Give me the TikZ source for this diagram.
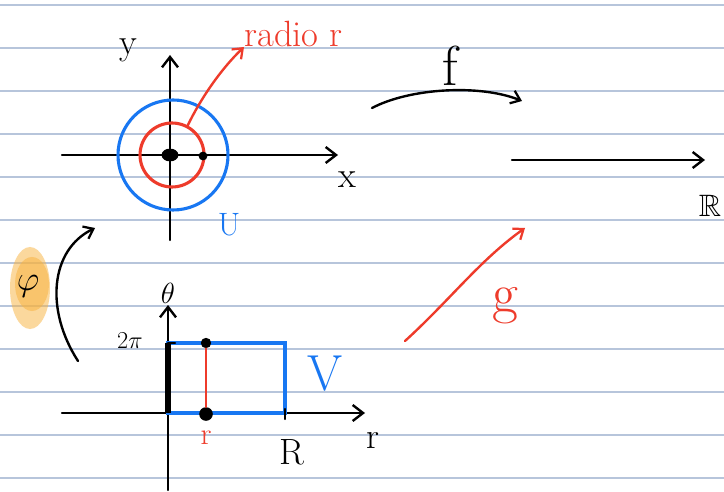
\documentclass[tikz,border=0pt]{standalone}
\usepackage{amssymb}
\usetikzlibrary{arrows.meta,shapes.geometric}
\definecolor{inkblue}{HTML}{1877F2}
\definecolor{inkred}{HTML}{EE3B2B}
\definecolor{ruled}{HTML}{B7C5DB}
\definecolor{marker}{HTML}{F9B23C}
\tikzset{
  ink/.style={line width=1.7pt, line cap=round, line join=round},
  axis/.style={ink, -{Straight Barb[length=2.6mm, width=4mm, line width=1.7pt]}},
  handarrow/.style={ink, -{Straight Barb[length=2.2mm, width=3.4mm, line width=1.6pt]}},
  ring/.style={circle, draw, line width=2.2pt, inner sep=0pt},
  blot/.style={circle, fill, inner sep=0pt},
  lab/.style={inner sep=0pt, font=\fontsize{#1}{#1}\selectfont},
}
\begin{document}
\begin{tikzpicture}[x=0.025cm, y=-0.025cm]
  \useasboundingbox (0,0) rectangle (724,492);
  \fill[white] (0,0) rectangle (724,492);
  % ruled sheet
  \foreach \k in {0,...,11}
    \draw[ruled, line width=0.9pt] (0,5+43*\k) -- (724,5+43*\k);

  % highlight behind phi
  \fill[marker, opacity=0.5] (30,288) ellipse (20 and 41);
  \fill[marker, opacity=0.5] (32,284) ellipse (17 and 27);

  % plane with circles
  \coordinate (xa0) at (62,155);
  \coordinate (xa1) at (338,155);
  \coordinate (ya0) at (170,240);
  \coordinate (ya1) at (170,55);
  \draw[axis] (xa0) -- (xa1);
  \draw[axis] (ya0) -- (ya1);
  \node[ring, draw=inkblue, minimum size=110*0.025cm] (Uring) at (173,155) {};
  \node[ring, draw=inkred, minimum size=64*0.025cm] (rring) at (172,155) {};
  \node[ellipse, fill, inner sep=0pt, minimum width=0.42cm, minimum height=0.32cm] (orig) at (170,155) {};
  \node[blot, minimum size=0.22cm] (rpt) at (203,156) {};
  \node[lab=26pt] (ylab) at (128,50) {y};
  \node[lab=26pt] (xlab) at (347,180) {x};
  \node[lab=23pt, text=inkblue] (Ulab) at (229,225) {U};
  \node[lab=26pt, text=inkred, anchor=south west] (radio) at (244,47) {radio r};
  \draw[handarrow, inkred] (rring.62) .. controls (200,100) and (220,70) .. (radio.south west);

  % f
  \coordinate (fa) at (372,108);
  \coordinate (fb) at (522,101);
  \node[lab=40pt] (flab) at (450,66) {f};
  \draw[handarrow] (fa) .. controls (410,88) and (480,84) .. (fb);

  % real line
  \coordinate (ra0) at (512,160);
  \coordinate (ra1) at (705,160);
  \draw[axis] (ra0) -- (ra1);
  \node[lab=22pt] (Rset) at (710,206) {$\mathbb{R}$};

  % phi
  \node[lab=34pt] (philab) at (28,286) {$\varphi$};
  \coordinate (pha) at (78,361);
  \coordinate (phb) at (95,228);
  \draw[handarrow] (pha) .. controls (45,310) and (50,250) .. (phb);

  % (r,theta) plane
  \coordinate (ra) at (62,413);
  \coordinate (rb) at (365,413);
  \coordinate (ta) at (168,490);
  \coordinate (tb) at (168,305);
  \draw[axis] (ra) -- (rb);
  \draw[axis] (ta) -- (tb);
  \draw[inkblue, line width=2.2pt] (168,343) rectangle (285,413);
  \draw[line width=3.6pt] (168,413) -- (168,343);
  \draw[ink] (168,343) -- (175,343);
  \draw[ink] (285,409) -- (285,419);
  \node[blot, minimum size=0.26cm] (top) at (206,343) {};
  \node[blot, minimum size=0.34cm] (bot) at (206,414) {};
  \draw[inkred, ink] (top) -- (bot);
  \node[lab=22pt] (thlab) at (168,293) {$\theta$};
  \node[lab=16pt] (twopi) at (130,341) {$2\pi$};
  \node[lab=22pt, text=inkred] (rmark) at (206,438) {r};
  \node[lab=26pt] (Rmark) at (292,452) {R};
  \node[lab=26pt] (rlab) at (373,440) {r};
  \node[lab=36pt, text=inkblue] (Vlab) at (325,374) {V};

  % g
  \coordinate (ga) at (405,341);
  \coordinate (gb) at (525,228);
  \draw[handarrow, inkred] (ga) .. controls (450,300) and (480,260) .. (gb);
  \node[lab=40pt, text=inkred] (glab) at (505,306) {g};
\end{tikzpicture}
\end{document}
